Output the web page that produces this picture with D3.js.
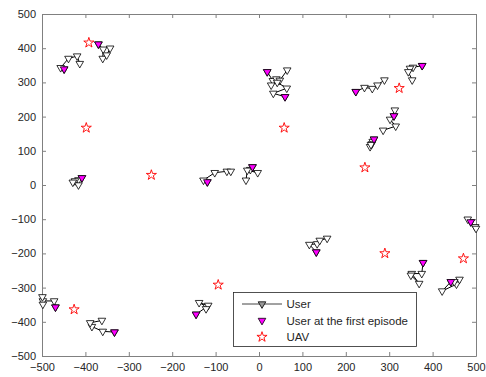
<!DOCTYPE html>
<html>
<head>
<meta charset="utf-8">
<script src="https://cdn.jsdelivr.net/npm/d3@7"></script>
<style>
  body { margin: 0; background: #fff; }
  svg { font-family: "Liberation Sans", Arial, sans-serif; }
</style>
</head>
<body>
<svg id="chart" width="486" height="377"></svg>
<script>
// user trajectories, first point = first episode
const userTracks = [
  [[-449, 339], [-457, 343], [-439, 370], [-419, 377], [-413, 355]],
  [[-370, 412], [-359, 397], [-360, 370], [-351, 380], [-343, 400]],
  [[-408, 21], [-416, 15], [-424, 12], [-416, 0], [-429, 8]],
  [[-119, 9], [-128, 14], [-102, 36], [-74, 40], [-65, 40]],
  [[-15, 53], [-20, 45], [-3, 36], [-27, 43], [-30, 14]],
  [[19, 331], [32, 305], [40, 310], [48, 306], [65, 336]],
  [[60, 258], [33, 268], [64, 283], [42, 300], [28, 292]],
  [[223, 273], [243, 285], [261, 282], [273, 292], [289, 307]],
  [[376, 349], [355, 344], [348, 341], [344, 331], [353, 307]],
  [[311, 202], [313, 219], [302, 192], [315, 172], [286, 160]],
  [[265, 134], [262, 127], [260, 120], [256, 112], [258, 118]],
  [[-469, -357], [-472, -339], [-498, -339], [-499, -327], [-498, -349]],
  [[-333, -430], [-360, -428], [-385, -414], [-389, -403], [-362, -396]],
  [[-145, -378], [-120, -356], [-138, -344], [-117, -352], [-122, -362]],
  [[132, -196], [116, -174], [134, -172], [140, -162], [157, -156]],
  [[378, -227], [375, -259], [352, -259], [369, -288], [350, -264]],
  [[442, -283], [422, -310], [455, -290], [462, -276], [450, -283]],
  [[488, -108], [481, -100], [498, -122], [500, -127]]
];
const uavX = [-392, -398, -248, 58, 323, 244, -426, -94, 290, 471];
const uavY = [416, 167, 29, 167, 283, 51, -364, -292, -200, -215];
const xTicks = [-500, -400, -300, -200, -100, 0, 100, 200, 300, 400, 500];
const yTicks = [-500, -400, -300, -200, -100, 0, 100, 200, 300, 400, 500];
const legendLabels = ["User", "User at the first episode", "UAV"];

const mLeft = 42, mRight = 476, mTop = 14, mBottom = 356;
const svg = d3.select("#chart");

const x = d3.scaleLinear().domain([-500, 500]).range([mLeft, mRight]);
const y = d3.scaleLinear().domain([-500, 500]).range([mBottom, mTop]);

const axisColor = "#808080";
const textColor = "#262626";

// axes with inward ticks
function styleAxis(g) {
  g.select(".domain").attr("stroke", axisColor);
  g.selectAll(".tick line").attr("stroke", axisColor);
  g.selectAll(".tick text").attr("fill", textColor).style("font-size", "11px");
}
svg.append("g")
  .attr("transform", "translate(0," + mBottom + ")")
  .call(d3.axisBottom(x).tickValues(xTicks).tickSizeInner(-4).tickSizeOuter(0).tickPadding(7))
  .call(styleAxis);
svg.append("g")
  .attr("transform", "translate(" + mLeft + ",0)")
  .call(d3.axisLeft(y).tickValues(yTicks).tickSizeInner(-4).tickSizeOuter(0).tickPadding(6))
  .call(styleAxis);
svg.append("g")
  .attr("transform", "translate(0," + mTop + ")")
  .call(d3.axisTop(x).tickValues(xTicks).tickSizeInner(-4).tickSizeOuter(0).tickFormat(""))
  .call(styleAxis);
svg.append("g")
  .attr("transform", "translate(" + mRight + ",0)")
  .call(d3.axisRight(y).tickValues(yTicks).tickSizeInner(-4).tickSizeOuter(0).tickFormat(""))
  .call(styleAxis);

const tri = d3.symbol().type(d3.symbolTriangle).size(25);
const star = d3.symbol().type(d3.symbolStar).size(32);
const line = d3.line().x(d => x(d[0])).y(d => y(d[1]));

// user paths with markers
userTracks.forEach(track => {
  svg.append("path")
    .attr("d", line(track))
    .attr("fill", "none")
    .attr("stroke", "#000")
    .attr("stroke-width", 1);
  svg.selectAll(null)
    .data(track)
    .enter()
    .append("path")
    .attr("d", tri)
    .attr("transform", d => "translate(" + x(d[0]) + "," + y(d[1]) + ") rotate(180)")
    .attr("fill", "#fff")
    .attr("stroke", "#000")
    .attr("stroke-width", 0.8);
});

// first episode
svg.selectAll(".first")
  .data(userTracks.map(t => t[0]))
  .enter()
  .append("path")
  .attr("d", tri)
  .attr("transform", d => "translate(" + x(d[0]) + "," + y(d[1]) + ") rotate(180)")
  .attr("fill", "#ff00ff")
  .attr("stroke", "#000")
  .attr("stroke-width", 0.8);

// UAVs
svg.selectAll(".uav")
  .data(uavX.map((v, i) => [v, uavY[i]]))
  .enter()
  .append("path")
  .attr("d", star)
  .attr("transform", d => "translate(" + x(d[0]) + "," + y(d[1]) + ")")
  .attr("fill", "none")
  .attr("stroke", "#ff0000")
  .attr("stroke-width", 0.9);

// legend
const lg = svg.append("g");
lg.append("rect")
  .attr("x", 233.5).attr("y", 292.5)
  .attr("width", 183).attr("height", 54)
  .attr("fill", "#fff")
  .attr("stroke", "#262626")
  .attr("stroke-width", 0.8);
const rowY = [304, 320.5, 337];
lg.append("line")
  .attr("x1", 242).attr("x2", 282)
  .attr("y1", rowY[0]).attr("y2", rowY[0])
  .attr("stroke", "#444").attr("stroke-width", 1);
lg.append("path")
  .attr("d", tri)
  .attr("transform", "translate(262," + rowY[0] + ") rotate(180)")
  .attr("fill", "#999").attr("stroke", "#000").attr("stroke-width", 0.8);
lg.append("path")
  .attr("d", tri)
  .attr("transform", "translate(262," + rowY[1] + ") rotate(180)")
  .attr("fill", "#ff00ff").attr("stroke", "#000").attr("stroke-width", 0.8);
lg.append("path")
  .attr("d", star)
  .attr("transform", "translate(262," + rowY[2] + ")")
  .attr("fill", "none").attr("stroke", "#ff0000").attr("stroke-width", 0.9);
lg.selectAll("text")
  .data(legendLabels)
  .enter()
  .append("text")
  .attr("x", 286.5)
  .attr("y", (d, i) => rowY[i])
  .attr("dy", "0.35em")
  .attr("fill", textColor)
  .style("font-size", "11.5px")
  .text(d => d);
</script>
</body>
</html>
